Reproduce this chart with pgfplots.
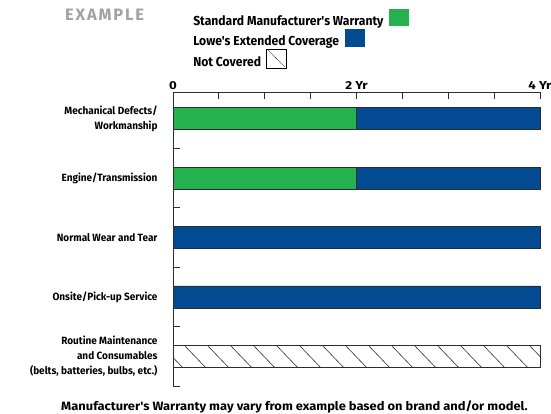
\documentclass[border=0pt]{standalone}
\usepackage{fontspec}
\setmainfont{Fira Sans}
\newfontfamily\legfont{Fira Sans}[FakeStretch=0.934]
\newfontfamily\labfont{Fira Sans}[FakeStretch=0.952]
\newfontfamily\footfont{Fira Sans}[FakeStretch=1.075]
\newfontfamily\tickfont{Fira Sans}[FakeStretch=1.15]
\newfontfamily\titlefont{Fira Sans}[LetterSpace=11]
\usepackage{pgfplots}
\pgfplotsset{compat=1.18}
\usetikzlibrary{patterns.meta}

\definecolor{mgreen}{RGB}{37,177,77}
\definecolor{lblue}{RGB}{2,74,145}
\definecolor{tgray}{RGB}{160,162,165}
\definecolor{edge}{RGB}{45,45,45}

\tikzdeclarepattern{
  name=widehatch,
  type=uncolored,
  bottom left={(0bp,0bp)},
  top right={(23bp,23bp)},
  tile size={(23bp,23bp)},
  code={\draw[line width=0.6bp] (-1bp,24bp) -- (24bp,-1bp);}
}

\newcommand\swatch[1]{\textcolor{#1}{\rule[-1bp]{20bp}{17.5bp}}}
\newcommand\hatchswatch{\raisebox{-1bp}{\setlength\unitlength{1bp}\linethickness{0.8bp}\setlength\fboxrule{0.8bp}\begin{picture}(19,18)\put(0,0){\framebox(19,18){}}\put(0,18){\line(1,-1){18}}\end{picture}}}

\begin{document}
\begin{tikzpicture}
\useasboundingbox (0,0) rectangle (551bp,414bp);
\begin{axis}[
  at={(173bp,28bp)}, anchor=south west,
  scale only axis, width=367bp, height=294bp,
  xmin=0, xmax=4, ymin=-0.5, ymax=4.45,
  axis x line=top, axis y line=left,
  axis line style={-, line width=0.9bp, edge},
  tick style={line width=0.9bp, edge},
  tick align=inside,
  major tick length=7bp,
  xtick={0,0.5,...,4},
  xticklabels={0,,,,2 Yr,,,,4 Yr},
  xticklabel style={font=\tickfont\bfseries\fontsize{11.5bp}{12bp}\selectfont, yshift=-1bp},
  ytick={-0.5,0.5,1.5,2.5,3.5},
  yticklabels={,,,,},
  extra y ticks={0,1,2,3,4},
  extra y tick labels={{Routine Maintenance\\and Consumables\\(belts, batteries, bulbs, etc.)},{Onsite/Pick-up Service},{Normal Wear and Tear},{Engine/Transmission},{Mechanical Defects/\\Workmanship}},
  extra y tick style={major tick length=0pt},
  yticklabel style={align=right, font=\labfont\bfseries\fontsize{10.5bp}{15bp}\selectfont, xshift=-12bp},
  legend plot pos=none,
  legend style={at={(axis description cs:0.052,1.287)}, anchor=north west, draw=none, fill=none, inner sep=0pt, row sep=0.5bp, nodes={inner sep=1bp, anchor=west}, font=\legfont\bfseries\fontsize{13bp}{15bp}\selectfont},
  legend cell align=left,
  clip=false,
]
\addplot[xbar, bar width=22bp, bar shift=0pt, fill=lblue, draw=edge, line width=0.8bp] coordinates {(4,4) (4,3) (4,2) (4,1)};
\addplot[xbar, bar width=22bp, bar shift=0pt, fill=mgreen, draw=edge, line width=0.8bp] coordinates {(2,4) (2,3)};
\addplot[xbar, bar width=22bp, bar shift=0pt, pattern=widehatch, pattern color=edge, draw=edge, line width=0.8bp] coordinates {(4,0)};
\legend{{Standard Manufacturer's Warranty\hspace{6bp}\swatch{mgreen}},{Lowe's Extended Coverage\hspace{6bp}\swatch{lblue}},{Not Covered\hspace{6bp}\hatchswatch}}
\end{axis}
\node[anchor=base west, inner sep=0pt, text=tgray, font=\titlefont\bfseries\fontsize{16.5bp}{18bp}\selectfont] at (65bp,393bp) {EXAMPLE};
\node[anchor=base, font=\footfont\bfseries\fontsize{12bp}{14bp}\selectfont] at (294.5bp,4bp) {Manufacturer's Warranty may vary from example based on brand and/or model.};
\end{tikzpicture}
\end{document}
